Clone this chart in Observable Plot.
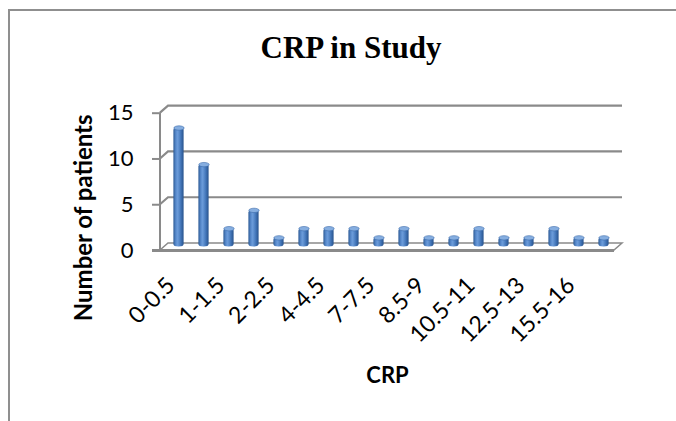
<!DOCTYPE html>
<html>
<head>
<meta charset="utf-8">
<script src="https://cdn.jsdelivr.net/npm/d3@7"></script>
<script src="https://cdn.jsdelivr.net/npm/@observablehq/plot@0.6"></script>
<style>
  html, body { margin: 0; padding: 0; background: #fff; }
  #wrap { position: relative; width: 676px; height: 421px; overflow: hidden; background: #fff; }
  #frame { position: absolute; left: 8px; top: 9px; width: 800px; height: 600px;
           border-left: 2px solid #8f8f8f; border-top: 2px solid #8f8f8f; }
  #title { position: relative; height: 72px; box-sizing: border-box; padding-top: 32px; padding-left: 26px;
           font: bold 31px "Liberation Serif", "Times New Roman", serif; line-height: 31px;
           text-align: center; color: #000; }
  #chart { position: relative; }
</style>
</head>
<body>
<div id="wrap">
  <div id="frame"></div>
  <div id="title"></div>
  <div id="chart"></div>
</div>
<script>
// ---- data ----
const chartTitle = "CRP in Study";
const xTitle = "CRP";
const yTitle = "Number of patients";
const categories = ["0-0.5","0.5-1","1-1.5","1.5-2","2-2.5","3-3.5","4-4.5","5-5.5","7-7.5",
                    "8-8.5","8.5-9","9.5-10","10.5-11","11.5-12","12.5-13","14-14.5","15.5-16","17-17.5"];
const patients   = [13, 9, 2, 4, 1, 2, 2, 2, 1, 2, 1, 1, 2, 1, 1, 2, 1, 1];
const xTickLabels = ["0-0.5","1-1.5","2-2.5","4-4.5","7-7.5","8.5-9","10.5-11","12.5-13","15.5-16"];
const yTicks = [0, 5, 10, 15];

const rows = categories.map((c, i) => ({crp: c, n: patients[i]}));

document.getElementById("title").textContent = chartTitle;

// ---- style ----
const DX = 8, DY = 7;          // depth of the 3-D box (px)
const GRID = "#8a8a8a";
const FONT = "Lato, 'Open Sans', sans-serif";

const defs = () => {
  const d = d3.create("svg:defs");
  const lg = d.append("linearGradient").attr("id", "cyl")
    .attr("x1", 0).attr("x2", 1).attr("y1", 0).attr("y2", 0);
  [[0, "#2c5a95"], [0.25, "#5a8cce"], [0.42, "#6b9bd9"], [0.7, "#4679bc"], [1, "#27528c"]]
    .forEach(([o, c]) => lg.append("stop").attr("offset", o).attr("stop-color", c));
  return d.node();
};

const depthBox = (index, scales, values, dims) => {
  const y = scales.y;
  const xl = dims.marginLeft, xr = dims.width - dims.marginRight;
  const g = d3.create("svg:g").attr("fill", "none").attr("stroke", GRID);
  const y0 = y(0);
  // floor
  g.append("path").attr("fill", "#fff").attr("stroke-width", 1.5)
    .attr("d", `M${xl},${y0}L${xl + DX},${y0 - DY}L${xr + DX},${y0 - DY}L${xr},${y0}Z`);
  g.append("line").attr("stroke-width", 3)
    .attr("x1", xl - 8).attr("x2", xr).attr("y1", y0 + 0.5).attr("y2", y0 + 0.5);
  // back wall gridlines with left-wall connectors
  for (const t of yTicks) {
    if (t === 0) continue;
    g.append("path").attr("stroke-width", 2.2)
      .attr("d", `M${xl},${y(t)}L${xl + DX},${y(t) - DY}L${xr + DX},${y(t) - DY}`);
  }
  // front vertical axis line
  g.append("line").attr("stroke-width", 2)
    .attr("x1", xl).attr("x2", xl).attr("y1", y(yTicks[yTicks.length - 1])).attr("y2", y0);
  return g.node();
};

const ellipse = {
  draw(ctx, size) {
    const r = Math.sqrt(size / Math.PI), ry = r * 0.42, k = 0.5523;
    ctx.moveTo(-r, 0);
    ctx.bezierCurveTo(-r, -ry * k, -r * k, -ry, 0, -ry);
    ctx.bezierCurveTo(r * k, -ry, r, -ry * k, r, 0);
    ctx.bezierCurveTo(r, ry * k, r * k, ry, 0, ry);
    ctx.bezierCurveTo(-r * k, ry, -r, ry * k, -r, 0);
    ctx.closePath();
  }
};

const plot = Plot.plot({
  width: 676,
  height: 349,
  marginLeft: 160,
  marginRight: 62,
  marginTop: 40.7,
  marginBottom: 171,
  style: {fontFamily: FONT, color: "#000", background: "transparent", overflow: "visible"},
  x: {type: "band", domain: categories, padding: 0},
  y: {domain: [0, 15]},
  marks: [
    defs,
    depthBox,
    Plot.axisY({ticks: yTicks, tickSize: 8, tickPadding: 19, fontSize: 22, fontFamily: FONT,
                stroke: GRID, strokeWidth: 2, label: null}),
    Plot.axisX({ticks: xTickLabels, tickSize: 0, tickPadding: 31, tickRotate: -45, dx: -4,
                fontSize: 23, fontFamily: FONT, label: null}),
    Plot.barY(rows, {x: "crp", y: "n", fill: "url(#cyl)", insetLeft: 7.4, insetRight: 7.4,
                     dx: 4, dy: -3.5, rx: 5, ry: 2.5}),
    Plot.dot(rows, {x: "crp", y: "n", r: 5.2, symbol: ellipse, fill: "#86aee0",
                    stroke: "#3d6cab", strokeWidth: 0.6, dx: 4, dy: -3.5}),
    Plot.text([yTitle], {text: d => d, frameAnchor: "left", rotate: -90, dx: -76, dy: 36,
                         textAnchor: "middle", lineAnchor: "middle",
                         fontSize: 24, fontWeight: "bold", fontFamily: FONT}),
    Plot.text([xTitle], {text: d => d, frameAnchor: "bottom", dy: 125.5,
                         textAnchor: "middle", lineAnchor: "middle",
                         fontSize: 22, fontWeight: "bold", fontFamily: FONT})
  ]
});
document.getElementById("chart").appendChild(plot);
</script>
</body>
</html>
